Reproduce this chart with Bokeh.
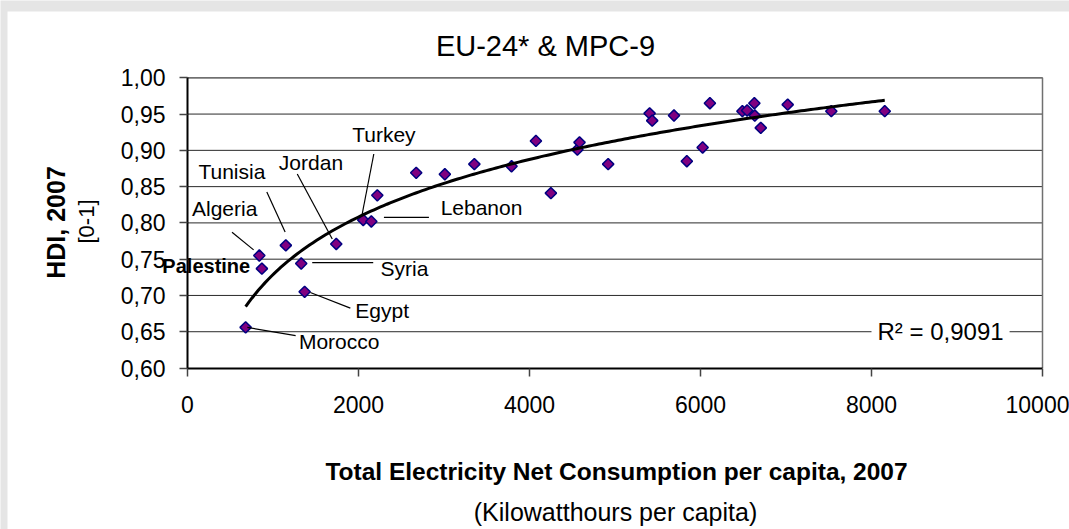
import numpy as np
from bokeh.plotting import figure
from bokeh.models import Label, Range1d, CustomJSTickFormatter, BoxAnnotation
from bokeh.embed import file_html
from bokeh.resources import INLINE

# ---------------- data ----------------
mpc_names = ["Morocco", "Algeria", "Palestine", "Tunisia", "Syria", "Egypt", "Jordan", "Turkey", "Lebanon"]
mpc_kwh = [680, 840, 870, 1150, 1330, 1370, 1740, 2055, 2150]
mpc_hdi = [0.656, 0.755, 0.737, 0.769, 0.744, 0.705, 0.771, 0.804, 0.802]

eu_kwh = [2220, 2675, 3010, 3355, 3790, 4075, 4250, 4560, 4585, 4920, 5405, 5435,
          5690, 5840, 6025, 6110, 6490, 6545, 6630, 6635, 6705, 7020, 7530, 8155]
eu_hdi = [0.838, 0.869, 0.867, 0.881, 0.878, 0.913, 0.841, 0.901, 0.911, 0.881, 0.951, 0.941,
          0.948, 0.885, 0.904, 0.965, 0.954, 0.955, 0.965, 0.948, 0.931, 0.963, 0.954, 0.954]

x_ticks = [0, 2000, 4000, 6000, 8000, 10000]
y_ticks = [0.60, 0.65, 0.70, 0.75, 0.80, 0.85, 0.90, 0.95, 1.00]

title_text = "EU-24* & MPC-9"
x_title = "Total Electricity Net Consumption per capita, 2007"
x_subtitle = "(Kilowatthours per capita)"
y_title = "HDI, 2007"
y_subtitle = "[0-1]"
r2_text = "R\u00b2 = 0,9091"

# ---------------- layout (plot area inside the canvas) ----------------
W, H = 1069, 529
X0, X1 = 0, 10000
Y0, Y1 = 0.60, 1.00
AREA_L, AREA_R, AREA_T, AREA_B = 187, 1042, 77.3, 367.5
PXX = (AREA_R - AREA_L) / (X1 - X0)
PXY = (AREA_B - AREA_T) / (Y1 - Y0)
BASE_K = 0.4  # baseline correction, fraction of font size


def page(px, py):
    return (px - AREA_L) / PXX + X0, Y1 - (py - AREA_T) / PXY


xr0, yr0 = page(0, H)
xr1, yr1 = page(W, 0)

FONT = "Liberation Sans"

p = figure(width=W, height=H, x_range=Range1d(xr0, xr1), y_range=Range1d(yr0, yr1),
           output_backend="svg", toolbar_location=None,
           min_border_left=0, min_border_right=0, min_border_top=0, min_border_bottom=0)
p.background_fill_color = "#e5e5e5"
p.border_fill_color = "#e5e5e5"
p.outline_line_color = None
p.xgrid.grid_line_color = None
p.ygrid.grid_line_color = None

# white chart panel
bl, bt = page(7, 11)
br, bb = page(W, H)
p.add_layout(BoxAnnotation(left=bl, right=br, top=bt, bottom=bb, fill_color="white",
                           fill_alpha=1.0, line_color=None, level="underlay"))

# axes of the plot area
p.xaxis.ticker = x_ticks
p.yaxis.ticker = y_ticks
p.xaxis.fixed_location = Y0
p.yaxis.fixed_location = X0
p.xaxis.bounds = (X0, X1)
p.yaxis.bounds = (Y0, Y1)
p.yaxis.formatter = CustomJSTickFormatter(code="return tick.toFixed(2).replace('.', ',');")
for ax in (p.xaxis[0], p.yaxis[0]):
    ax.axis_line_color = "black"
    ax.axis_line_width = 2
    ax.major_tick_out = 8
    ax.major_tick_in = 0
    ax.major_tick_line_color = "#444444"
    ax.major_tick_line_width = 1.5
    ax.minor_tick_line_color = None
    ax.major_label_text_font = FONT
    ax.major_label_text_font_size = "23px"
    ax.major_label_text_color = "black"
p.xaxis.major_label_standoff = 20
p.yaxis.major_label_standoff = 14

# horizontal gridlines and plot-area border (top / right)
grid_vals = [v for v in y_ticks if v > Y0]
p.segment(x0=[X0] * len(grid_vals), x1=[X1] * len(grid_vals), y0=grid_vals, y1=grid_vals,
          line_color="#2a2a2a", line_width=1)
p.segment(x0=[X0, X1], x1=[X1, X1], y0=[Y1, Y0], y1=[Y1, Y1],
          line_color="#707070", line_width=1.5)

# ---------------- trend line (log fit of the data) ----------------
all_x = np.array(mpc_kwh + eu_kwh, dtype=float)
all_y = np.array(mpc_hdi + eu_hdi, dtype=float)
a, b = np.polyfit(np.log(all_x), all_y, 1)
xs = np.linspace(all_x.min(), all_x.max(), 200)
ys = a * np.log(xs) + b

# ---------------- points ----------------
p.scatter(eu_kwh, eu_hdi, marker="square", angle=np.pi / 4, size=8,
          fill_color="#800080", line_color="#000080", line_width=1.5)
p.scatter(mpc_kwh, mpc_hdi, marker="square", angle=np.pi / 4, size=8,
          fill_color="#800080", line_color="#000080", line_width=1.5)
p.line(xs, ys, line_color="black", line_width=3)

# ---------------- country labels (pixel offsets from each point, y up) ----------------
label_off = {
    "Morocco": (53.3, -22.6), "Algeria": (-67.3, 39), "Palestine": (-11.7, -5.7),
    "Tunisia": (-87.4, 65), "Syria": (79.3, -13.4), "Egypt": (50.7, -27.3),
    "Jordan": (-57.4, 73.3), "Turkey": (-11, 76.6), "Lebanon": (69.3, 5.7),
}
leader_off = {
    "Morocco": ((1.7, 0), (50, -8.3)), "Algeria": ((-27.3, 23.3), (-5.7, 5.7)),
    "Tunisia": ((-19, 53.3), (-0.7, 13.3)), "Syria": ((11, 1), (72, 1)),
    "Egypt": ((5.7, -0.7), (45.7, -16.3)), "Jordan": ((-39, 70), (-4, 5)),
    "Turkey": ((10.6, 66), (-1, 6)), "Lebanon": ((12.6, 4), (57.6, 4)),
}
sx0, sy0, sx1, sy1 = [], [], [], []
for name, xv, yv in zip(mpc_names, mpc_kwh, mpc_hdi):
    if name in leader_off:
        (ax0, ay0), (ax1, ay1) = leader_off[name]
        sx0.append(xv + ax0 / PXX); sy0.append(yv + ay0 / PXY)
        sx1.append(xv + ax1 / PXX); sy1.append(yv + ay1 / PXY)
    dx, dy = label_off[name]
    bold = name == "Palestine"
    fs = 20 if bold else 21
    p.add_layout(Label(x=xv, y=yv, x_offset=dx, y_offset=dy + BASE_K * fs, text=name,
                       text_font=FONT, text_font_size=f"{fs}px",
                       text_font_style="bold" if bold else "normal",
                       text_align="right" if bold else "left",
                       text_baseline="alphabetic", text_color="black"))
p.segment(sx0, sy0, sx1, sy1, line_color="black", line_width=1.2)


def text_at(px, py, text, fs, style="normal", align="center", angle=0.0, bg=None, pad=0):
    if angle:
        px = px - BASE_K * fs
    else:
        py = py - BASE_K * fs
    x, y = page(px, py)
    p.add_layout(Label(x=x, y=y, text=text, text_font=FONT, text_font_size=f"{fs}px",
                       text_font_style=style, text_align=align, angle=angle,
                       text_baseline="alphabetic", text_color="black",
                       background_fill_color=bg, padding=pad))


# ---------------- R2 ----------------
text_at(871, 341, r2_text, 24, align="left", bg="white", pad=6)

# ---------------- titles ----------------
text_at(545, 57, title_text, 29)
text_at(616, 480.5, x_title, 24.5, style="bold")
text_at(615, 521.5, x_subtitle, 25)
text_at(65, 222, y_title, 25, style="bold", angle=np.pi / 2)
text_at(95, 221, y_subtitle, 22, angle=np.pi / 2)

open("out.html", "w").write(file_html(p, INLINE))
